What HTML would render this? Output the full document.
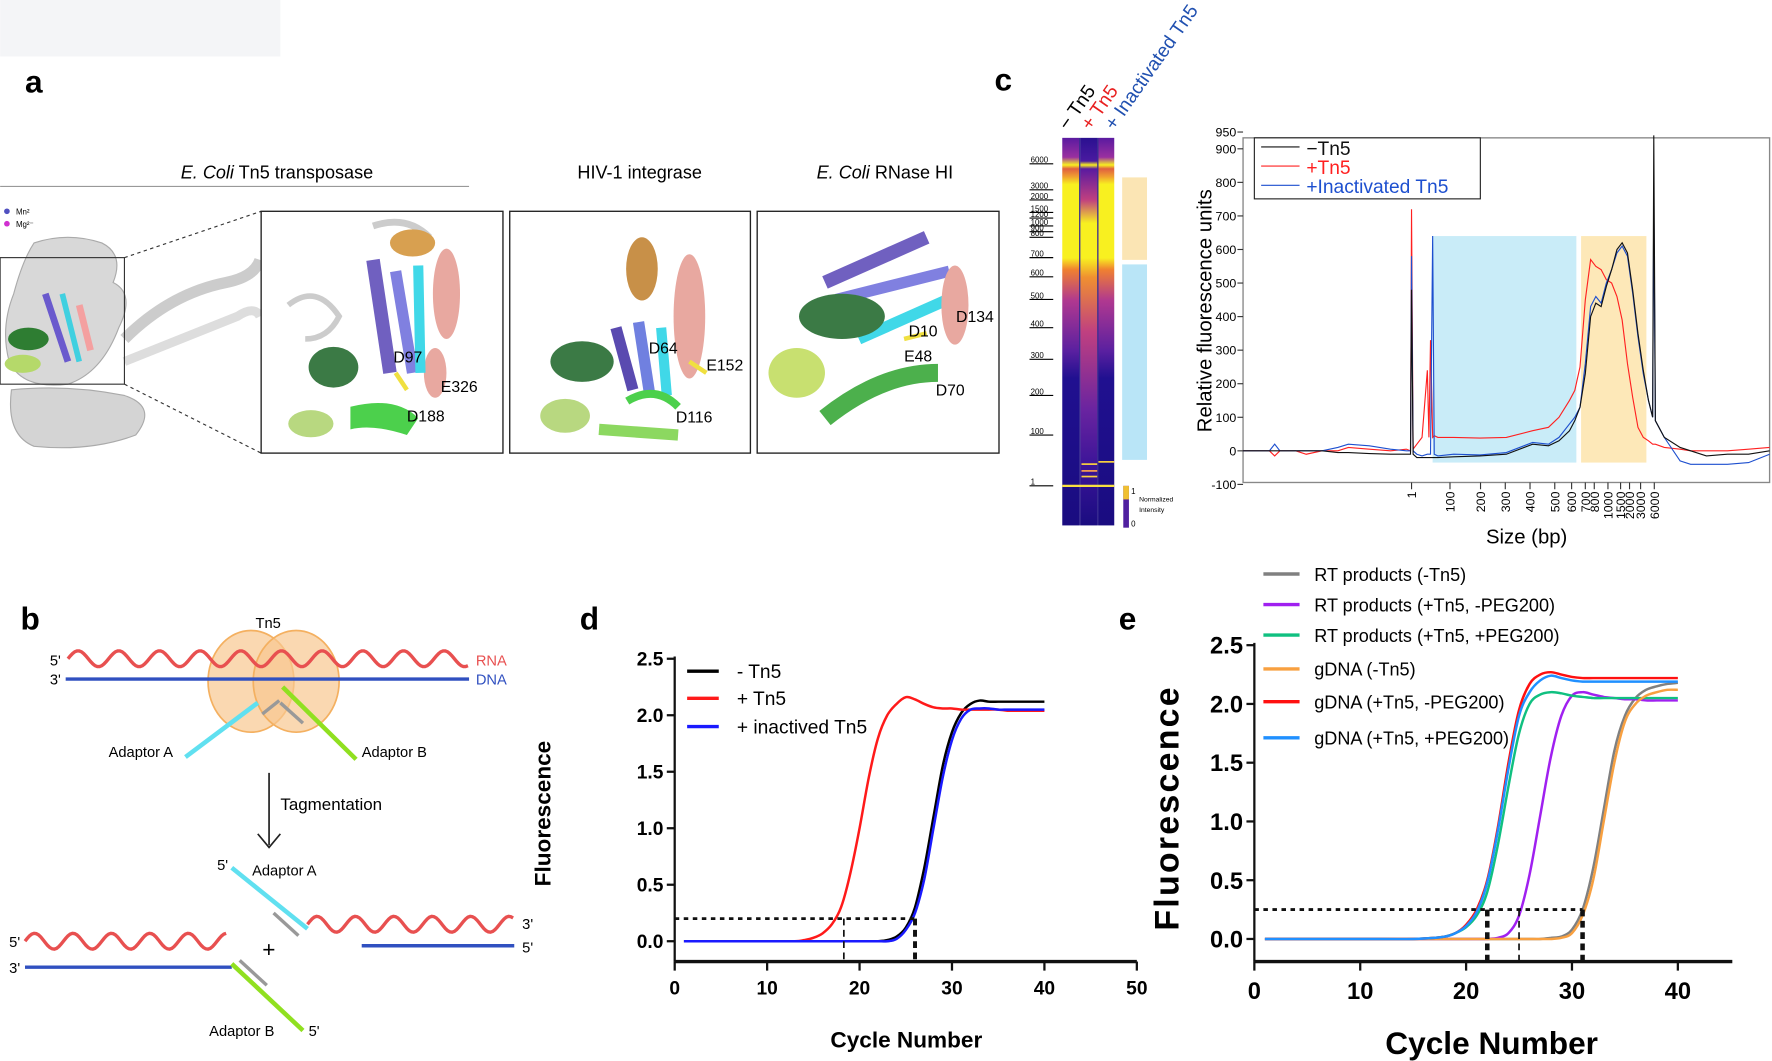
<!DOCTYPE html>
<html><head><meta charset="utf-8"><style>
html,body{margin:0;padding:0;background:#fff;}
svg{display:block;font-family:"Liberation Sans",Arial,sans-serif;}
</style></head><body>
<svg id="fig" width="1772" height="1061" viewBox="0 0 1568 939" xmlns="http://www.w3.org/2000/svg">
<rect x="0" y="0" width="248" height="50" fill="#f4f5f7"/>

<!-- Panel a -->
<g>
<text x="22" y="82" font-size="28" font-weight="bold">a</text>
<text x="245" y="158" font-size="16" text-anchor="middle"><tspan font-style="italic">E. Coli</tspan> Tn5 transposase</text>
<line x1="0" y1="165" x2="415" y2="165" stroke="#999" stroke-width="1"/>
<text x="566" y="158" font-size="16" text-anchor="middle">HIV-1 integrase</text>
<text x="783" y="158" font-size="16" text-anchor="middle"><tspan font-style="italic">E. Coli</tspan>  RNase HI</text>
<circle cx="6" cy="187" r="2.5" fill="#5050c0"/><text x="14" y="190" font-size="7">Mn²</text>
<circle cx="6" cy="198" r="2.5" fill="#d030d0"/><text x="14" y="201" font-size="7">Mg²⁻</text>
<g>
<path d="M30,215 Q60,205 90,215 Q110,225 100,250 Q120,260 105,290 Q90,330 60,340 Q20,345 8,320 Q0,290 12,260 Q20,230 30,215Z" fill="#d8d8d8" stroke="#aaa"/>
<path d="M10,345 Q60,340 110,350 Q140,360 120,385 Q80,400 30,395 Q5,385 10,345Z" fill="#d4d4d4" stroke="#aaa"/>
<path d="M110,300 Q150,260 200,250 Q225,245 230,230" fill="none" stroke="#ccc" stroke-width="10"/>
<path d="M110,320 Q160,300 210,280 Q225,270 230,280" fill="none" stroke="#ddd" stroke-width="8"/>
<ellipse cx="25" cy="300" rx="18" ry="10" fill="#2e7d32"/>
<ellipse cx="20" cy="322" rx="16" ry="8" fill="#b5d96a"/>
<path d="M40,260 L60,320" stroke="#6a5acd" stroke-width="6"/>
<path d="M55,260 L70,320" stroke="#40d0e0" stroke-width="5"/>
<path d="M70,270 L80,310" stroke="#f4a0a0" stroke-width="6"/>
<rect x="0" y="228" width="110" height="112" fill="none" stroke="#333" stroke-width="1"/>
<line x1="110" y1="228" x2="231" y2="187" stroke="#333" stroke-dasharray="3,3"/>
<line x1="110" y1="340" x2="231" y2="401" stroke="#333" stroke-dasharray="3,3"/>
</g>
<g>
<rect x="231" y="187" width="214" height="214" fill="#fff" stroke="#222" stroke-width="1.2"/>
<path d="M255,270 Q280,250 300,280 Q290,300 270,300" fill="none" stroke="#ccc" stroke-width="5"/>
<path d="M330,200 Q360,190 380,210" fill="none" stroke="#ccc" stroke-width="6"/>
<ellipse cx="365" cy="215" rx="20" ry="12" fill="#d8a050"/>
<ellipse cx="395" cy="260" rx="12" ry="40" fill="#e8a8a0"/>
<ellipse cx="385" cy="330" rx="10" ry="22" fill="#e8a8a0"/>
<ellipse cx="295" cy="325" rx="22" ry="18" fill="#3b7a45"/>
<ellipse cx="275" cy="375" rx="20" ry="12" fill="#b8d880"/>
<path d="M310,360 Q350,350 370,370 L360,385 Q330,375 310,380Z" fill="#4cd04c"/>
<path d="M330,230 L345,330" stroke="#7060c0" stroke-width="12"/>
<path d="M350,240 L365,330" stroke="#8080e0" stroke-width="10"/>
<path d="M370,235 L372,330" stroke="#40d8e8" stroke-width="9"/>
<path d="M350,330 L360,345" stroke="#f0e040" stroke-width="4"/>
<text x="348" y="321" font-size="14">D97</text>
<text x="390" y="347" font-size="14">E326</text>
<text x="360" y="373" font-size="14">D188</text>
</g>
<g>
<rect x="451" y="187" width="213" height="214" fill="#fff" stroke="#222" stroke-width="1.2"/>
<ellipse cx="568" cy="238" rx="14" ry="28" fill="#c89048"/>
<ellipse cx="610" cy="280" rx="14" ry="55" fill="#e8a8a0"/>
<ellipse cx="515" cy="320" rx="28" ry="18" fill="#3b7a45"/>
<ellipse cx="500" cy="368" rx="22" ry="15" fill="#b8d880"/>
<path d="M545,290 L560,345" stroke="#5a4ab0" stroke-width="10"/>
<path d="M565,285 L575,350" stroke="#7080e0" stroke-width="10"/>
<path d="M585,290 L590,350" stroke="#40d8e8" stroke-width="9"/>
<path d="M530,380 L600,385" stroke="#8cd860" stroke-width="10"/>
<path d="M555,355 Q580,340 600,360" stroke="#4cd04c" stroke-width="7" fill="none"/>
<path d="M610,320 L625,330" stroke="#f0e040" stroke-width="4"/>
<text x="574" y="313" font-size="14">D64</text>
<text x="625" y="328" font-size="14">E152</text>
<text x="598" y="374" font-size="14">D116</text>
</g>
<g>
<rect x="670" y="187" width="214" height="214" fill="#fff" stroke="#222" stroke-width="1.2"/>
<path d="M730,250 L820,210" stroke="#7060c0" stroke-width="12"/>
<path d="M740,265 L840,240" stroke="#8080e0" stroke-width="10"/>
<path d="M760,300 L850,260" stroke="#40d8e8" stroke-width="10"/>
<ellipse cx="845" cy="270" rx="12" ry="35" fill="#e8a8a0"/>
<ellipse cx="745" cy="280" rx="38" ry="20" fill="#3b7a45"/>
<ellipse cx="705" cy="330" rx="25" ry="22" fill="#c8e070"/>
<path d="M730,370 Q780,330 830,330" stroke="#4cb04c" stroke-width="16" fill="none"/>
<path d="M800,300 L820,295" stroke="#f0e040" stroke-width="4"/>
<text x="804" y="298" font-size="14">D10</text>
<text x="846" y="285" font-size="14">D134</text>
<text x="800" y="320" font-size="14">E48</text>
<text x="828" y="350" font-size="14">D70</text>
</g>
</g>

<!-- Panel c heatmap -->
<g>
<text x="880" y="80" font-size="28" font-weight="bold">c</text>
<defs>
<linearGradient id="lane1" x1="0" y1="0" x2="0" y2="1">
<stop offset="0" stop-color="#5a1aa0"/><stop offset="0.05" stop-color="#9a30a0"/><stop offset="0.07" stop-color="#f8f020"/><stop offset="0.08" stop-color="#e06040"/><stop offset="0.1" stop-color="#f0a030"/><stop offset="0.12" stop-color="#f8f020"/><stop offset="0.31" stop-color="#f8f020"/><stop offset="0.34" stop-color="#f08030"/><stop offset="0.42" stop-color="#b03890"/><stop offset="0.55" stop-color="#5a20a0"/><stop offset="0.62" stop-color="#201090"/><stop offset="1" stop-color="#1a0c80"/>
</linearGradient>
<linearGradient id="lane2" x1="0" y1="0" x2="0" y2="1">
<stop offset="0" stop-color="#2a1090"/><stop offset="0.06" stop-color="#4a1aa0"/><stop offset="0.07" stop-color="#f8f020"/><stop offset="0.08" stop-color="#5a1aa0"/><stop offset="0.16" stop-color="#c04080"/><stop offset="0.22" stop-color="#f8f020"/><stop offset="0.31" stop-color="#f8f020"/><stop offset="0.36" stop-color="#f09030"/><stop offset="0.5" stop-color="#c04080"/><stop offset="0.7" stop-color="#6a24a0"/><stop offset="0.85" stop-color="#3a1498"/><stop offset="1" stop-color="#1a0c80"/>
</linearGradient>
</defs>
<rect x="940" y="122" width="15" height="343" fill="url(#lane1)"/>
<rect x="956" y="122" width="15" height="343" fill="url(#lane2)"/>
<rect x="972" y="122" width="14" height="343" fill="url(#lane1)"/>
<line x1="955.5" y1="122" x2="955.5" y2="465" stroke="#1a0c80"/>
<line x1="971.5" y1="122" x2="971.5" y2="465" stroke="#1a0c80"/>
<rect x="940" y="429" width="46" height="2" fill="#f8e040"/>
<rect x="957" y="410" width="14" height="1.5" fill="#f8d040"/><rect x="957" y="416" width="14" height="1.5" fill="#f8a050"/><rect x="957" y="421" width="14" height="1.5" fill="#f8d040"/>
<rect x="972" y="408" width="14" height="1.5" fill="#f8d040"/>
<rect x="993" y="157" width="22" height="73" fill="#fbe5b4"/>
<rect x="993" y="234" width="22" height="173" fill="#b9e5f7"/>
<rect x="994" y="430" width="5" height="37" fill="#5020a0"/>
<rect x="994" y="430" width="5" height="12" fill="#f0c030"/>
<text x="1001" y="437" font-size="7">1</text><text x="1001" y="466" font-size="7">0</text>
<text x="1008" y="444" font-size="6">Normalized</text><text x="1008" y="453" font-size="6">Intensity</text>
<g id="gelLabels" font-size="7"></g>
<text transform="translate(945,116) rotate(-55)" font-size="17">− Tn5</text>
<text transform="translate(965,116) rotate(-55)" font-size="17" fill="#e82020">+ Tn5</text>
<text transform="translate(986,116) rotate(-55)" font-size="17" fill="#2050b0">+ Inactivated Tn5</text>
</g>

<!-- Panel c trace chart -->
<g id="chartC"></g>

<!-- Panel b -->
<g font-size="13">
<text x="18" y="557" font-size="28" font-weight="bold">b</text>
<ellipse cx="222" cy="603" rx="38" ry="45" fill="#f8c890" fill-opacity="0.7" stroke="#f4b060" stroke-width="1.5"/>
<ellipse cx="262" cy="603" rx="38" ry="45" fill="#f8c890" fill-opacity="0.7" stroke="#f4b060" stroke-width="1.5"/>
<text x="226" y="556" font-size="13">Tn5</text>
<path id="wave1" fill="none" stroke="#e85050" stroke-width="3"/>
<line x1="58" y1="601" x2="415" y2="601" stroke="#3050c0" stroke-width="3"/>
<text x="44" y="589">5'</text><text x="44" y="606">3'</text>
<text x="421" y="589" fill="#e85050">RNA</text><text x="421" y="606" fill="#3050c0">DNA</text>
<line x1="228" y1="622" x2="164" y2="670" stroke="#60e0f0" stroke-width="4"/>
<line x1="247" y1="620" x2="232" y2="632" stroke="#999" stroke-width="3"/>
<line x1="250" y1="608" x2="315" y2="672" stroke="#90e020" stroke-width="4"/>
<line x1="248" y1="622" x2="268" y2="640" stroke="#999" stroke-width="3"/>
<text x="96" y="670">Adaptor A</text><text x="320" y="670">Adaptor B</text>
<line x1="238" y1="684" x2="238" y2="748" stroke="#222" stroke-width="1.5"/>
<path d="M228,738 L238,750 L248,738" fill="none" stroke="#222" stroke-width="1.5"/>
<text x="248" y="717" font-size="15">Tagmentation</text>
<text x="192" y="770">5'</text><text x="223" y="775">Adaptor A</text>
<line x1="205" y1="768" x2="272" y2="822" stroke="#60e0f0" stroke-width="4"/>
<line x1="242" y1="808" x2="264" y2="828" stroke="#999" stroke-width="3"/>
<path id="wave2" fill="none" stroke="#e85050" stroke-width="3"/>
<path id="wave3" fill="none" stroke="#e85050" stroke-width="3"/>
<text x="462" y="822">3'</text>
<text x="8" y="838">5'</text><text x="8" y="861">3'</text>
<line x1="22" y1="856" x2="205" y2="856" stroke="#3050c0" stroke-width="3"/>
<line x1="320" y1="837" x2="455" y2="837" stroke="#3050c0" stroke-width="3"/>
<text x="462" y="843">5'</text>
<line x1="205" y1="853" x2="268" y2="912" stroke="#90e020" stroke-width="4"/>
<line x1="212" y1="850" x2="236" y2="872" stroke="#999" stroke-width="3"/>
<text x="232" y="847" font-size="20">+</text>
<text x="185" y="917">Adaptor B</text><text x="273" y="917">5'</text>
</g>

<g id="chartD"></g>
<g id="chartE"></g>
</svg>
<script>
// ---------- Panel d data ----------
const cyclesD = [1,5,10,13,14,15,16,17,18,19,20,21,22,23,24,25,26,27,28,29,30,31,32,33,34,35,36,37,38,39,40];
const dMinusTn5 = [0,0,0,0,0,0,0,0,0,0,0,0,0,0.01,0.04,0.12,0.3,0.65,1.1,1.55,1.85,2.02,2.1,2.13,2.12,2.12,2.12,2.12,2.12,2.12,2.12];
const dPlusTn5 = [0,0,0,0,0.01,0.03,0.07,0.15,0.3,0.6,1.0,1.45,1.8,2.0,2.1,2.16,2.14,2.1,2.07,2.06,2.06,2.05,2.05,2.05,2.05,2.05,2.04,2.04,2.04,2.04,2.04];
const dInactive = [0,0,0,0,0,0,0,0,0,0,0,0,0,0,0.02,0.1,0.25,0.55,1.0,1.45,1.78,1.97,2.05,2.06,2.06,2.05,2.05,2.05,2.05,2.05,2.05];
const dTicksX = [0,10,20,30,40,50];
const dTicksY = [0.0,0.5,1.0,1.5,2.0,2.5];
const dThreshold = [0.2];
const dCt = [18.3,26];
// ---------- Panel e data ----------
const cyclesE = [1,5,10,15,17,18,19,20,21,22,23,24,25,26,27,28,29,30,31,32,33,34,35,36,37,38,39,40];
const eRtMinus = [0,0,0,0,0,0,0,0,0,0,0,0,0,0,0,0.01,0.02,0.08,0.25,0.6,1.1,1.6,1.9,2.05,2.12,2.15,2.17,2.18];
const eRtPlusNoPeg = [0,0,0,0,0,0,0,0,0,0,0.01,0.05,0.2,0.55,1.05,1.55,1.9,2.07,2.1,2.08,2.06,2.05,2.04,2.04,2.03,2.03,2.03,2.03];
const eRtPlusPeg = [0,0,0,0,0.01,0.02,0.05,0.1,0.2,0.4,0.8,1.3,1.75,2.0,2.08,2.1,2.09,2.07,2.06,2.05,2.05,2.05,2.05,2.05,2.05,2.05,2.05,2.05];
const eGdnaMinus = [0,0,0,0,0,0,0,0,0,0,0,0,0,0,0,0,0.01,0.05,0.2,0.5,1.0,1.5,1.85,2.0,2.07,2.1,2.12,2.12];
const eGdnaPlusNoPeg = [0,0,0,0,0.01,0.02,0.05,0.12,0.25,0.5,0.95,1.5,1.95,2.17,2.25,2.27,2.25,2.23,2.22,2.22,2.22,2.22,2.22,2.22,2.22,2.22,2.22,2.22];
const eGdnaPlusPeg = [0,0,0,0,0.01,0.02,0.05,0.11,0.23,0.48,0.92,1.45,1.9,2.1,2.2,2.24,2.22,2.2,2.19,2.19,2.19,2.19,2.19,2.19,2.19,2.19,2.19,2.19];
const eTicksX = [0,10,20,30,40];
const eTicksY = [0.0,0.5,1.0,1.5,2.0,2.5];
const eThreshold = [0.25];
const eCt = [22,25,31];
// ---------- Panel c data (x = migration index 0-100) ----------
const cIdx = [0,5,6,7,10,12,15,18,20,24,28,31,31.8,32,32.3,33,34,35,35.3,35.6,36,36.3,37,40,45,50,55,58,60,62,63,64,65,66,67,68,69,70,71,72,73,74,75,76,77,77.8,78,78.3,80,83,85,88,92,96,100];
const cBlack = [0,0,0,0,0,0,0,-5,-5,-8,-10,-10,-10,480,-10,-20,-20,-20,-20,-20,-20,-20,-20,-18,-15,-10,20,15,30,60,90,130,230,400,440,430,490,540,600,620,590,480,350,240,150,100,940,90,40,10,0,-15,-10,-10,0];
const cRed = [0,0,-15,0,0,-10,0,0,10,5,0,5,0,720,5,20,40,240,40,330,40,45,40,40,38,40,60,70,100,150,180,250,450,570,550,540,510,500,460,390,260,160,70,40,30,20,20,20,10,5,0,0,0,5,10];
const cBlue = [0,0,20,0,0,0,0,10,20,15,5,0,0,580,0,-10,-15,-10,-10,-10,640,-10,-15,-10,-12,-5,25,20,40,80,100,130,260,430,460,440,500,540,590,610,580,470,340,230,150,100,750,90,40,-30,-40,-40,-40,-35,-10];
const cTickLabels = ['1','100','200','300','400','500','600','700','800','1000','1500','2000','3000','6000'];
const cTickIdx = [32,39.3,45.1,49.8,54.5,59.2,62.4,65,66.7,69.3,71.7,73.4,75.5,78.1];
const cTicksY = [-100,0,100,200,300,400,500,600,700,800,900,950];
const gelLabels = ['6000','3000','2000','1500','1200','1000','900','800','700','600','500','400','300','200','100','1'];
const gelLabelY = [145,168,177,188,193,200,205,210,228,245,265,290,318,350,385,430];

const NS='http://www.w3.org/2000/svg';
function mk(parent,tag,attrs,text){const e=document.createElementNS(NS,tag);for(const k in attrs)e.setAttribute(k,attrs[k]);if(text!==undefined)e.textContent=text;parent.appendChild(e);return e;}
function pathD(xs,ys,sx,sy){return xs.map((x,i)=>(i?'L':'M')+sx(x).toFixed(1)+','+sy(ys[i]).toFixed(1)).join(' ');}
function smoothD(xs,ys,sx,sy){
  const p=xs.map((x,i)=>[sx(x),sy(ys[i])]);let d='M'+p[0][0]+','+p[0][1];
  for(let i=0;i<p.length-1;i++){const p0=p[Math.max(0,i-1)],p1=p[i],p2=p[i+1],p3=p[Math.min(p.length-1,i+2)];
  const c1=[p1[0]+(p2[0]-p0[0])/6,p1[1]+(p2[1]-p0[1])/6],c2=[p2[0]-(p3[0]-p1[0])/6,p2[1]-(p3[1]-p1[1])/6];
  d+=' C'+c1[0].toFixed(1)+','+c1[1].toFixed(1)+' '+c2[0].toFixed(1)+','+c2[1].toFixed(1)+' '+p2[0].toFixed(1)+','+p2[1].toFixed(1);}return d;}

function wave(id,x1,x2,y,amp,per){let d='M'+x1+','+y;for(let x=x1;x<=x2;x+=2){d+=' L'+x+','+(y-amp*Math.sin((x-x1)/per*2*Math.PI)).toFixed(1);}document.getElementById(id).setAttribute('d',d);}
wave('wave1',60,415,583,7,36);wave('wave2',272,455,818,7,34);wave('wave3',22,200,833,7,34);

const gl=document.getElementById('gelLabels');
gelLabels.forEach((t,i)=>{const e=mk(gl,'text',{x:912,y:gelLabelY[i]-1},t);


mk(gl,'line',{x1:911,y1:gelLabelY[i],x2:932,y2:gelLabelY[i],stroke:'#000','stroke-width':1});});

(function(){
const g=document.getElementById('chartC');
const L=1100,R=1566,T=122,B=427;
const sx=v=>L+(R-L)*v/100, sy=v=>399-v*0.297;
mk(g,'rect',{x:sx(36),y:sy(640),width:sx(63.3)-sx(36),height:sy(-35)-sy(640),fill:'#c9ecf8'});
mk(g,'rect',{x:sx(64.2),y:sy(640),width:sx(76.6)-sx(64.2),height:sy(-35)-sy(640),fill:'#fde8b8'});
mk(g,'rect',{x:L,y:T,width:R-L,height:B-T,fill:'none',stroke:'#888','stroke-width':1.2});
cTicksY.forEach(v=>{const y=sy(v);mk(g,'line',{x1:L-5,y1:y,x2:L,y2:y,stroke:'#333'});
const t=mk(g,'text',{x:L-6,y:y+4,'font-size':11,'text-anchor':'end'},String(v));

});
cTickIdx.forEach((v,i)=>{const x=sx(v);mk(g,'line',{x1:x,y1:B,x2:x,y2:B+6,stroke:'#333'});
const t=mk(g,'text',{transform:`translate(${x+4},${B+8}) rotate(-90)`,'font-size':11,'text-anchor':'end'},cTickLabels[i]);

});
[[cRed,'#ff2020','trace-plus-tn5'],[cBlue,'#1d4fcf','trace-inactivated-tn5'],[cBlack,'#111','trace-minus-tn5']].forEach(s=>{
const p=mk(g,'path',{d:pathD(cIdx,s[0],sx,sy),fill:'none',stroke:s[1],'stroke-width':1});

});
const yl=mk(g,'text',{transform:'translate(1072,275) rotate(-90)','font-size':18,'text-anchor':'middle'},'Relative fluorescence units');

const xl=mk(g,'text',{x:1351,y:481,'font-size':18,'text-anchor':'middle'},'Size (bp)');

const lg=mk(g,'g',{});
mk(lg,'rect',{x:1110,y:122,width:200,height:54,fill:'#fff',stroke:'#222','stroke-width':1});
[['\u2212Tn5','#111',132],['+Tn5','#ff2020',149],['+Inactivated Tn5','#1d4fcf',166]].forEach(e=>{
mk(lg,'line',{x1:1116,y1:e[2]-2,x2:1150,y2:e[2]-2,stroke:e[1]});
const t=mk(lg,'text',{x:1156,y:e[2]+5,'font-size':17,fill:e[1]},e[0]);
});
})();

function qpcr(id,cfg){
const g=document.getElementById(id);
const sx=v=>cfg.x0+v*cfg.xs, sy=v=>cfg.y0-v*cfg.ys;
mk(g,'line',{x1:cfg.x0,y1:sy(2.5)-2,x2:cfg.x0,y2:cfg.axY,stroke:'#111','stroke-width':2});
mk(g,'line',{x1:cfg.x0,y1:cfg.axY,x2:cfg.axEnd,y2:cfg.axY,stroke:'#111','stroke-width':3});
cfg.ty.forEach(v=>{mk(g,'line',{x1:cfg.x0-7,y1:sy(v),x2:cfg.x0,y2:sy(v),stroke:'#111','stroke-width':2});
const t=mk(g,'text',{x:cfg.x0-10,y:sy(v)+cfg.fs*0.36,'font-size':cfg.fs,'font-weight':'bold','text-anchor':'end'},v.toFixed(1));
});
cfg.tx.forEach(v=>{mk(g,'line',{x1:sx(v),y1:cfg.axY,x2:sx(v),y2:cfg.axY+8,stroke:'#111','stroke-width':2});
const t=mk(g,'text',{x:sx(v),y:cfg.axY+12+cfg.fs,'font-size':cfg.fs,'font-weight':'bold','text-anchor':'middle'},String(v));
});
cfg.series.forEach(s=>{const p=mk(g,'path',{d:smoothD(cfg.xs_,s.v,sx,sy),fill:'none',stroke:s.c,'stroke-width':2.2});
});
const th=cfg.th[0];
mk(g,'line',{x1:cfg.x0,y1:sy(th),x2:sx(Math.max(...cfg.ct)),y2:sy(th),stroke:'#111','stroke-width':2.5,'stroke-dasharray':'4,4'});
cfg.ct.forEach((c,i)=>{mk(g,'line',{x1:sx(c),y1:sy(th),x2:sx(c),y2:cfg.axY,stroke:'#111','stroke-width':cfg.ctw[i],'stroke-dasharray':'6,4'});});
const xl=mk(g,'text',{x:cfg.xlx,y:cfg.xly,'font-size':cfg.xfs,'font-weight':'bold','text-anchor':'middle'},'Cycle Number');

const yl=mk(g,'text',{transform:`translate(${cfg.ylx},${cfg.yly}) rotate(-90)`,'font-size':cfg.yfs,'font-weight':'bold','text-anchor':'middle','letter-spacing':cfg.yls},'Fluorescence');

cfg.series.forEach((s,i)=>{const y=cfg.legY[i];
mk(g,'line',{x1:cfg.legX,y1:y,x2:cfg.legX+cfg.legW,y2:y,stroke:s.c,'stroke-width':3});
const t=mk(g,'text',{x:cfg.legX+cfg.legW+cfg.legGap,y:y+6,'font-size':cfg.lfs},s.l);
});
const lab=mk(g,'text',{x:cfg.labX,y:cfg.labY,'font-size':28,'font-weight':'bold'},cfg.lab);

}
qpcr('chartD',{x0:597,xs:8.18,y0:833,ys:100,axY:851,axEnd:1006,ty:dTicksY,tx:dTicksX,fs:17,xs_:cyclesD,
series:[{v:dMinusTn5,c:'#000',n:'curve-minus-tn5',l:'- Tn5'},{v:dPlusTn5,c:'#ff1a1a',n:'curve-plus-tn5',l:'+ Tn5'},{v:dInactive,c:'#1a1aff',n:'curve-inactive-tn5',l:'+ inactived Tn5'}],
th:dThreshold,ct:dCt,ctw:[1.5,3.5],xlx:802,xly:927,xfs:20,ylx:487,yly:720,yfs:20,yls:0,
legX:608,legW:28,legGap:16,legY:[594,618,643],lfs:17,labX:513,labY:557,lab:'d'});
qpcr('chartE',{x0:1110,xs:9.37,y0:831,ys:104,axY:851,axEnd:1533,ty:eTicksY,tx:eTicksX,fs:21,xs_:cyclesE,
series:[{v:eRtMinus,c:'#808080',n:'curve-rt-minus-tn5',l:'RT products (-Tn5)'},{v:eRtPlusNoPeg,c:'#a020f0',n:'curve-rt-plus-tn5-no-peg',l:'RT products (+Tn5, -PEG200)'},{v:eRtPlusPeg,c:'#10c080',n:'curve-rt-plus-tn5-peg',l:'RT products (+Tn5, +PEG200)'},{v:eGdnaMinus,c:'#f8a040',n:'curve-gdna-minus-tn5',l:'gDNA (-Tn5)'},{v:eGdnaPlusNoPeg,c:'#ff1010',n:'curve-gdna-plus-tn5-no-peg',l:'gDNA (+Tn5, -PEG200)'},{v:eGdnaPlusPeg,c:'#2090ff',n:'curve-gdna-plus-tn5-peg',l:'gDNA (+Tn5, +PEG200)'}],
th:eThreshold,ct:eCt,ctw:[4,1.5,4],xlx:1320,xly:933,xfs:28,ylx:1043,yly:715,yfs:30,yls:2,
legX:1118,legW:32,legGap:13,legY:[508,535,562,592,621,653],lfs:16,labX:990,labY:557,lab:'e'});
</script>
</body></html>
